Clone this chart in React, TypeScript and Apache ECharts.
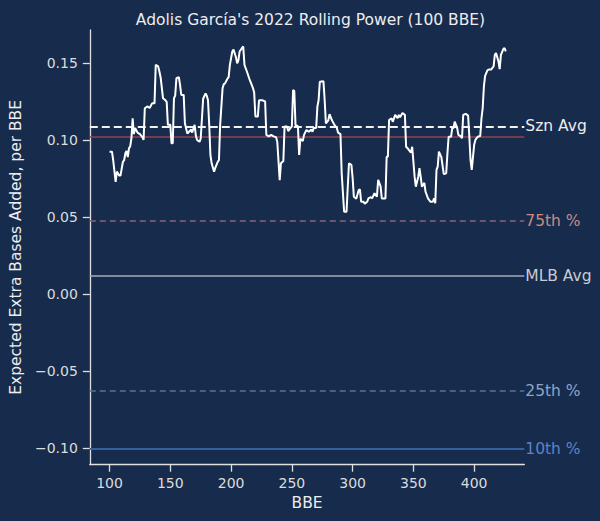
import React, { useEffect, useRef } from "react";
import * as echarts from "echarts";

const bbe = [
  100, 102, 103, 105, 106, 108, 109, 111, 112, 113, 114, 115, 116, 117, 118, 119, 120, 121, 123, 125,
  127, 128, 129, 131, 133, 135, 137, 138, 140, 141, 142, 144, 146, 147, 148, 150, 151, 152, 153, 154,
  155, 157, 158, 159, 161, 162, 164, 166, 167, 168, 170, 171, 172, 174, 175, 177, 179, 180, 181, 182,
  183, 184, 186, 187, 189, 190, 191, 193, 194, 195, 197, 198, 199, 201, 202, 204, 205, 206, 207, 209,
  210, 211, 213, 215, 216, 218, 219, 220, 222, 223, 226, 228, 229, 231, 233, 235, 237, 238, 240, 241,
  243, 244, 246, 247, 248, 250, 251, 252, 253, 255, 256, 257, 259, 260, 262, 264, 266, 267, 268, 270,
  271, 272, 273, 276, 277, 278, 280, 281, 283, 285, 287, 288, 290, 291, 293, 295, 296, 297, 299, 300,
  301, 303, 305, 306, 307, 309, 310, 312, 313, 315, 316, 318, 320, 321, 323, 324, 327, 328, 329, 330,
  332, 333, 335, 337, 338, 339, 341, 343, 344, 345, 347, 348, 349, 351, 352, 354, 355, 356, 357, 359,
  360, 362, 364, 366, 367, 368, 369, 370, 371, 373, 375, 377, 378, 379, 381, 382, 383, 384, 386, 387,
  389, 390, 391, 393, 395, 396, 397, 398, 400, 401, 403, 405, 406, 407, 408, 409, 411, 412, 414, 415,
  416, 417, 418, 420, 421, 422, 424, 425, 426,
];

const xeba = [
  0.0926, 0.0926, 0.087, 0.073, 0.0796, 0.077, 0.077, 0.086, 0.087, 0.0915, 0.093, 0.089, 0.0948, 0.096, 0.1013, 0.1143, 0.104, 0.108, 0.105, 0.104,
  0.102, 0.1002, 0.1208, 0.122, 0.121, 0.124, 0.124, 0.149, 0.148, 0.1447, 0.141, 0.1273, 0.126, 0.125, 0.11, 0.11, 0.098, 0.098, 0.1273, 0.129,
  0.1403, 0.141, 0.136, 0.1295, 0.1295, 0.111, 0.1043, 0.106, 0.107, 0.105, 0.11, 0.103, 0.1002, 0.099, 0.101, 0.127, 0.1305, 0.129, 0.126, 0.11,
  0.0904, 0.085, 0.0796, 0.082, 0.086, 0.087, 0.11, 0.1339, 0.1365, 0.137, 0.14, 0.141, 0.149, 0.1577, 0.159, 0.154, 0.15, 0.152, 0.1577, 0.16,
  0.161, 0.149, 0.1447, 0.14, 0.138, 0.1339, 0.131, 0.1154, 0.1154, 0.126, 0.126, 0.1252, 0.1035, 0.1025, 0.1035, 0.1025, 0.102, 0.099, 0.074, 0.085,
  0.0865, 0.109, 0.109, 0.106, 0.107, 0.109, 0.1327, 0.132, 0.11, 0.109, 0.0904, 0.101, 0.0995, 0.1035, 0.1067, 0.1055, 0.107, 0.1056, 0.108, 0.108,
  0.1219, 0.126, 0.138, 0.1383, 0.126, 0.111, 0.113, 0.117, 0.113, 0.11, 0.108, 0.105, 0.104, 0.0785, 0.0535, 0.0535, 0.0698, 0.085, 0.084, 0.0755,
  0.0633, 0.062, 0.0676, 0.068, 0.06, 0.06, 0.0587, 0.06, 0.0622, 0.063, 0.0622, 0.0655, 0.0633, 0.0742, 0.07, 0.0622, 0.0622, 0.0893, 0.0893, 0.1132,
  0.1143, 0.112, 0.1165, 0.1143, 0.1165, 0.115, 0.1177, 0.1165, 0.0958, 0.095, 0.093, 0.092, 0.0958, 0.0763, 0.0698, 0.0763, 0.0818, 0.0763, 0.0698, 0.0723,
  0.0665, 0.0622, 0.06, 0.06, 0.0622, 0.059, 0.0807, 0.0828, 0.0926, 0.089, 0.078, 0.0785, 0.0915, 0.1023, 0.1023, 0.108, 0.108, 0.1121, 0.108, 0.1035,
  0.1025, 0.1013, 0.1165, 0.1172, 0.116, 0.1028, 0.0872, 0.0807, 0.097, 0.1002, 0.1023, 0.1028, 0.1143, 0.1208, 0.135, 0.1419, 0.1456, 0.146, 0.146, 0.147,
  0.148, 0.1555, 0.1567, 0.1512, 0.1462, 0.1555, 0.1593, 0.16, 0.1578,
];

const xTicks = [100, 150, 200, 250, 300, 350, 400];
const yTicks = [-0.1, -0.05, 0, 0.05, 0.1, 0.15];

const refNames = ["Szn Avg", "", "75th %", "MLB Avg", "25th %", "10th %"];
const refValues = [0.109, 0.102, 0.0478, 0.012, -0.063, -0.1005];

const FONT = "DejaVu Sans";
const BG = "#172B4D";

export default function App() {
  const ref = useRef<HTMLDivElement>(null);

  useEffect(() => {
    document.body.style.margin = "0";
    if (!ref.current) return;
    const chart = echarts.init(ref.current, undefined, { renderer: "svg" });

    const refStyles = [
      { line: { color: "#F2F2F2", width: 2, type: [8, 4] }, label: "#EDEDED" },
      { line: { color: "#94404F", width: 1.5, type: "solid" }, label: "#94404F" },
      { line: { color: "#8C6473", width: 1.6, type: [6, 4] }, label: "#C98A80" },
      { line: { color: "#A9ABB8", width: 1.6, type: "solid" }, label: "#C9CBD3" },
      { line: { color: "#5B7397", width: 1.6, type: [6, 4] }, label: "#8EA5C4" },
      { line: { color: "#3560A0", width: 2, type: "solid" }, label: "#5A84C4" },
    ];

    const markData = refValues.map((v, i) => ({
      yAxis: v,
      lineStyle: refStyles[i].line,
      label: {
        show: refNames[i] !== "",
        formatter: refNames[i],
        position: "end",
        distance: 1,
        color: refStyles[i].label,
        fontFamily: FONT,
        fontSize: 15.5,
      },
    }));

    const tickLabel = {
      color: "#DCDCDC",
      fontFamily: FONT,
      fontSize: 14,
    };

    chart.setOption({
      animation: false,
      backgroundColor: BG,
      title: {
        text: "Adolis García's 2022 Rolling Power (100 BBE)",
        left: 305.5,
        top: 7,
        textAlign: "center",
        textStyle: { color: "#EDEDED", fontFamily: FONT, fontSize: 15.5, fontWeight: "normal" },
      },
      grid: { left: 86.7, right: 75.7, top: 30, bottom: 56.3, containLabel: false },
      xAxis: {
        type: "value",
        min: 83.75,
        max: 441.25,
        name: "BBE",
        nameLocation: "middle",
        nameGap: 30,
        nameTextStyle: { color: "#EDEDED", fontFamily: FONT, fontSize: 15.5 },
        axisLine: { show: true, onZero: false, lineStyle: { color: "#E0E0E0", width: 1.3 } },
        axisTick: { show: true, inside: false, length: 7, customValues: xTicks, lineStyle: { color: "#E0E0E0", width: 1.3 } },
        axisLabel: { ...tickLabel, margin: 11, customValues: xTicks, formatter: (v: number) => String(v) },
        splitLine: { show: false },
      },
      yAxis: {
        type: "value",
        min: -0.111,
        max: 0.1717,
        name: "Expected Extra Bases Added, per BBE",
        nameLocation: "middle",
        nameGap: 62,
        nameTextStyle: { color: "#EDEDED", fontFamily: FONT, fontSize: 15.5 },
        axisLine: { show: true, onZero: false, lineStyle: { color: "#E0E0E0", width: 1.3 } },
        axisTick: { show: true, inside: false, length: 7, customValues: yTicks, lineStyle: { color: "#E0E0E0", width: 1.3 } },
        axisLabel: {
          ...tickLabel,
          margin: 12,
          customValues: yTicks,
          formatter: (v: number) => (v < 0 ? "\u2212" + Math.abs(v).toFixed(2) : v.toFixed(2)),
        },
        splitLine: { show: false },
      },
      series: [
        {
          type: "line",
          data: bbe.map((x, i) => [x, xeba[i]]),
          showSymbol: false,
          symbol: "none",
          lineStyle: { color: "#FFFFFF", width: 2 },
          z: 5,
          markLine: {
            silent: true,
            symbol: "none",
            precision: 4,
            data: markData,
          },
        },
      ],
    });

    return () => chart.dispose();
  }, []);

  return <div ref={ref} style={{ width: 600, height: 521 }} />;
}
